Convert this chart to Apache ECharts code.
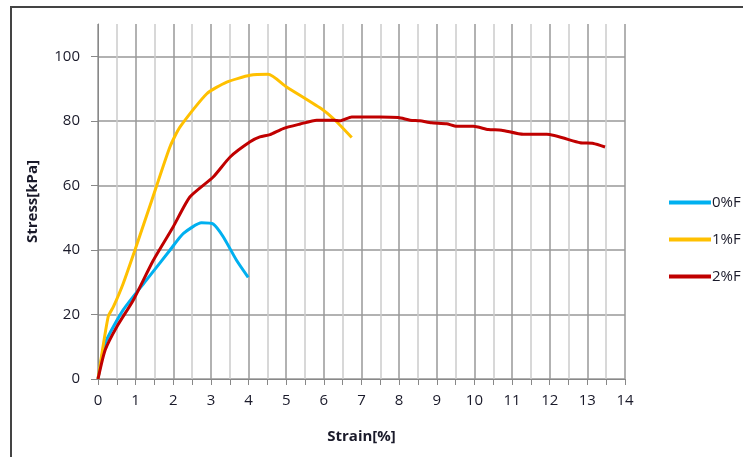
<!DOCTYPE html>
<html>
<head>
<meta charset="utf-8">
<title>Stress-Strain</title>
<script src="https://cdn.jsdelivr.net/npm/echarts@6/dist/echarts.min.js"></script>
<style>
  html, body { margin: 0; padding: 0; background: #fff; }
  #chart { width: 743px; height: 457px; }
</style>
</head>
<body>
<div id="chart"></div>
<script>
// strain [%], stress [kPa]
var strain0 = [0, 0.19, 0.67, 1.29, 1.91, 2.27, 2.75, 3.06, 3.33, 3.68, 3.99]
var stress0 = [0, 11.1, 21.4, 30.7, 39.9, 45.1, 48.4, 48.0, 44.0, 36.8, 31.5]

var strain1 = [0, 0.27, 0.41, 0.67, 0.98, 1.25, 1.43, 1.91, 2.18, 2.89, 3.42, 4.04, 4.52, 5.01, 5.99, 6.34, 6.74]
var stress1 = [0, 19.3, 22.4, 29.6, 39.9, 49.2, 55.4, 71.9, 78.1, 88.4, 92.0, 94.1, 94.4, 90.5, 83.3, 79.7, 74.8]

var strain2 = [0, 0.19, 0.5, 0.94, 1.47, 2.0, 2.44, 3.06, 3.51, 4.04, 4.3, 4.57, 4.92, 5.37, 5.81, 6.25, 6.43, 6.74, 7.49, 7.98,
  8.29, 8.55, 8.86, 9.26, 9.53, 9.97, 10.37, 10.72, 11.3, 11.92, 12.81, 13.16, 13.47]
var stress2 = [0, 9.0, 16.2, 24.5, 36.8, 47.2, 56.4, 62.6, 68.8, 73.5, 75.0, 75.7, 77.6, 79.0, 80.2, 80.2, 80.0, 81.2, 81.2, 81.0,
  80.2, 80.0, 79.4, 79.1, 78.3, 78.3, 77.3, 77.1, 75.8, 75.8, 73.2, 73.0, 71.9]

var seriesNames = ['0%F', '1%F', '2%F']
var seriesColors = ['#00B0F0', '#FFC000', '#C00000']

function pairs(xs, ys) {
  return xs.map(function (x, i) { return [x, ys[i]] })
}

var chart = echarts.init(document.getElementById('chart'))
var font = '"Open Sans", sans-serif'

var lines = [pairs(strain0, stress0), pairs(strain1, stress1), pairs(strain2, stress2)].map(function (d, i) {
  return {
    name: seriesNames[i],
    type: 'line',
    data: d,
    symbol: 'none',
    smooth: 0.2,
    lineStyle: { width: 3, color: seriesColors[i] },
    itemStyle: { color: seriesColors[i] },
    z: 3 + (i === 0 ? 0 : i)
  }
})

chart.setOption({
  animation: false,
  backgroundColor: '#fff',
  textStyle: { fontFamily: font },
  graphic: [{
    type: 'rect',
    shape: { x: 11, y: 7, width: 800, height: 500 },
    style: { fill: 'none', stroke: '#444', lineWidth: 2 },
    silent: true
  }],
  legend: {
    orient: 'vertical',
    left: 664,
    top: 190,
    icon: 'rect',
    itemWidth: 42,
    itemHeight: 4,
    itemGap: 22,
    textStyle: { fontFamily: font, fontSize: 15, color: '#1a1a2a', padding: [0, 0, 0, -4] },
    data: seriesNames
  },
  grid: { left: 98, top: 24, width: 527, height: 355 },
  xAxis: {
    type: 'value',
    min: 0,
    max: 14,
    interval: 1,
    name: 'Strain[%]',
    nameLocation: 'middle',
    nameGap: 50,
    nameTextStyle: { fontFamily: font, fontSize: 15, fontWeight: 'bold', color: '#1a1a2a' },
    axisLine: { lineStyle: { color: '#888', width: 1 } },
    axisTick: { show: true, length: 6, lineStyle: { color: '#888' } },
    minorTick: { show: true, splitNumber: 2, length: 6, lineStyle: { color: '#888' } },
    axisLabel: { fontSize: 15, color: '#1a1a2a', margin: 14 },
    splitLine: { show: true, lineStyle: { color: '#999', width: 1.5 } },
    minorSplitLine: { show: true, lineStyle: { color: '#ccc', width: 1.5 } }
  },
  yAxis: {
    type: 'value',
    min: 0,
    max: 110,
    interval: 20,
    name: 'Stress[kPa]',
    nameLocation: 'middle',
    nameGap: 58,
    nameTextStyle: { fontFamily: font, fontSize: 15, fontWeight: 'bold', color: '#1a1a2a' },
    axisLine: { show: true, lineStyle: { color: '#888', width: 1 } },
    axisTick: { show: true, length: 7, lineStyle: { color: '#888' } },
    axisLabel: { fontSize: 15, color: '#1a1a2a', margin: 18, showMaxLabel: false },
    splitLine: { show: true, showMaxLine: false, lineStyle: { color: '#999', width: 1.5 } }
  },
  series: lines
})
</script>
</body>
</html>
